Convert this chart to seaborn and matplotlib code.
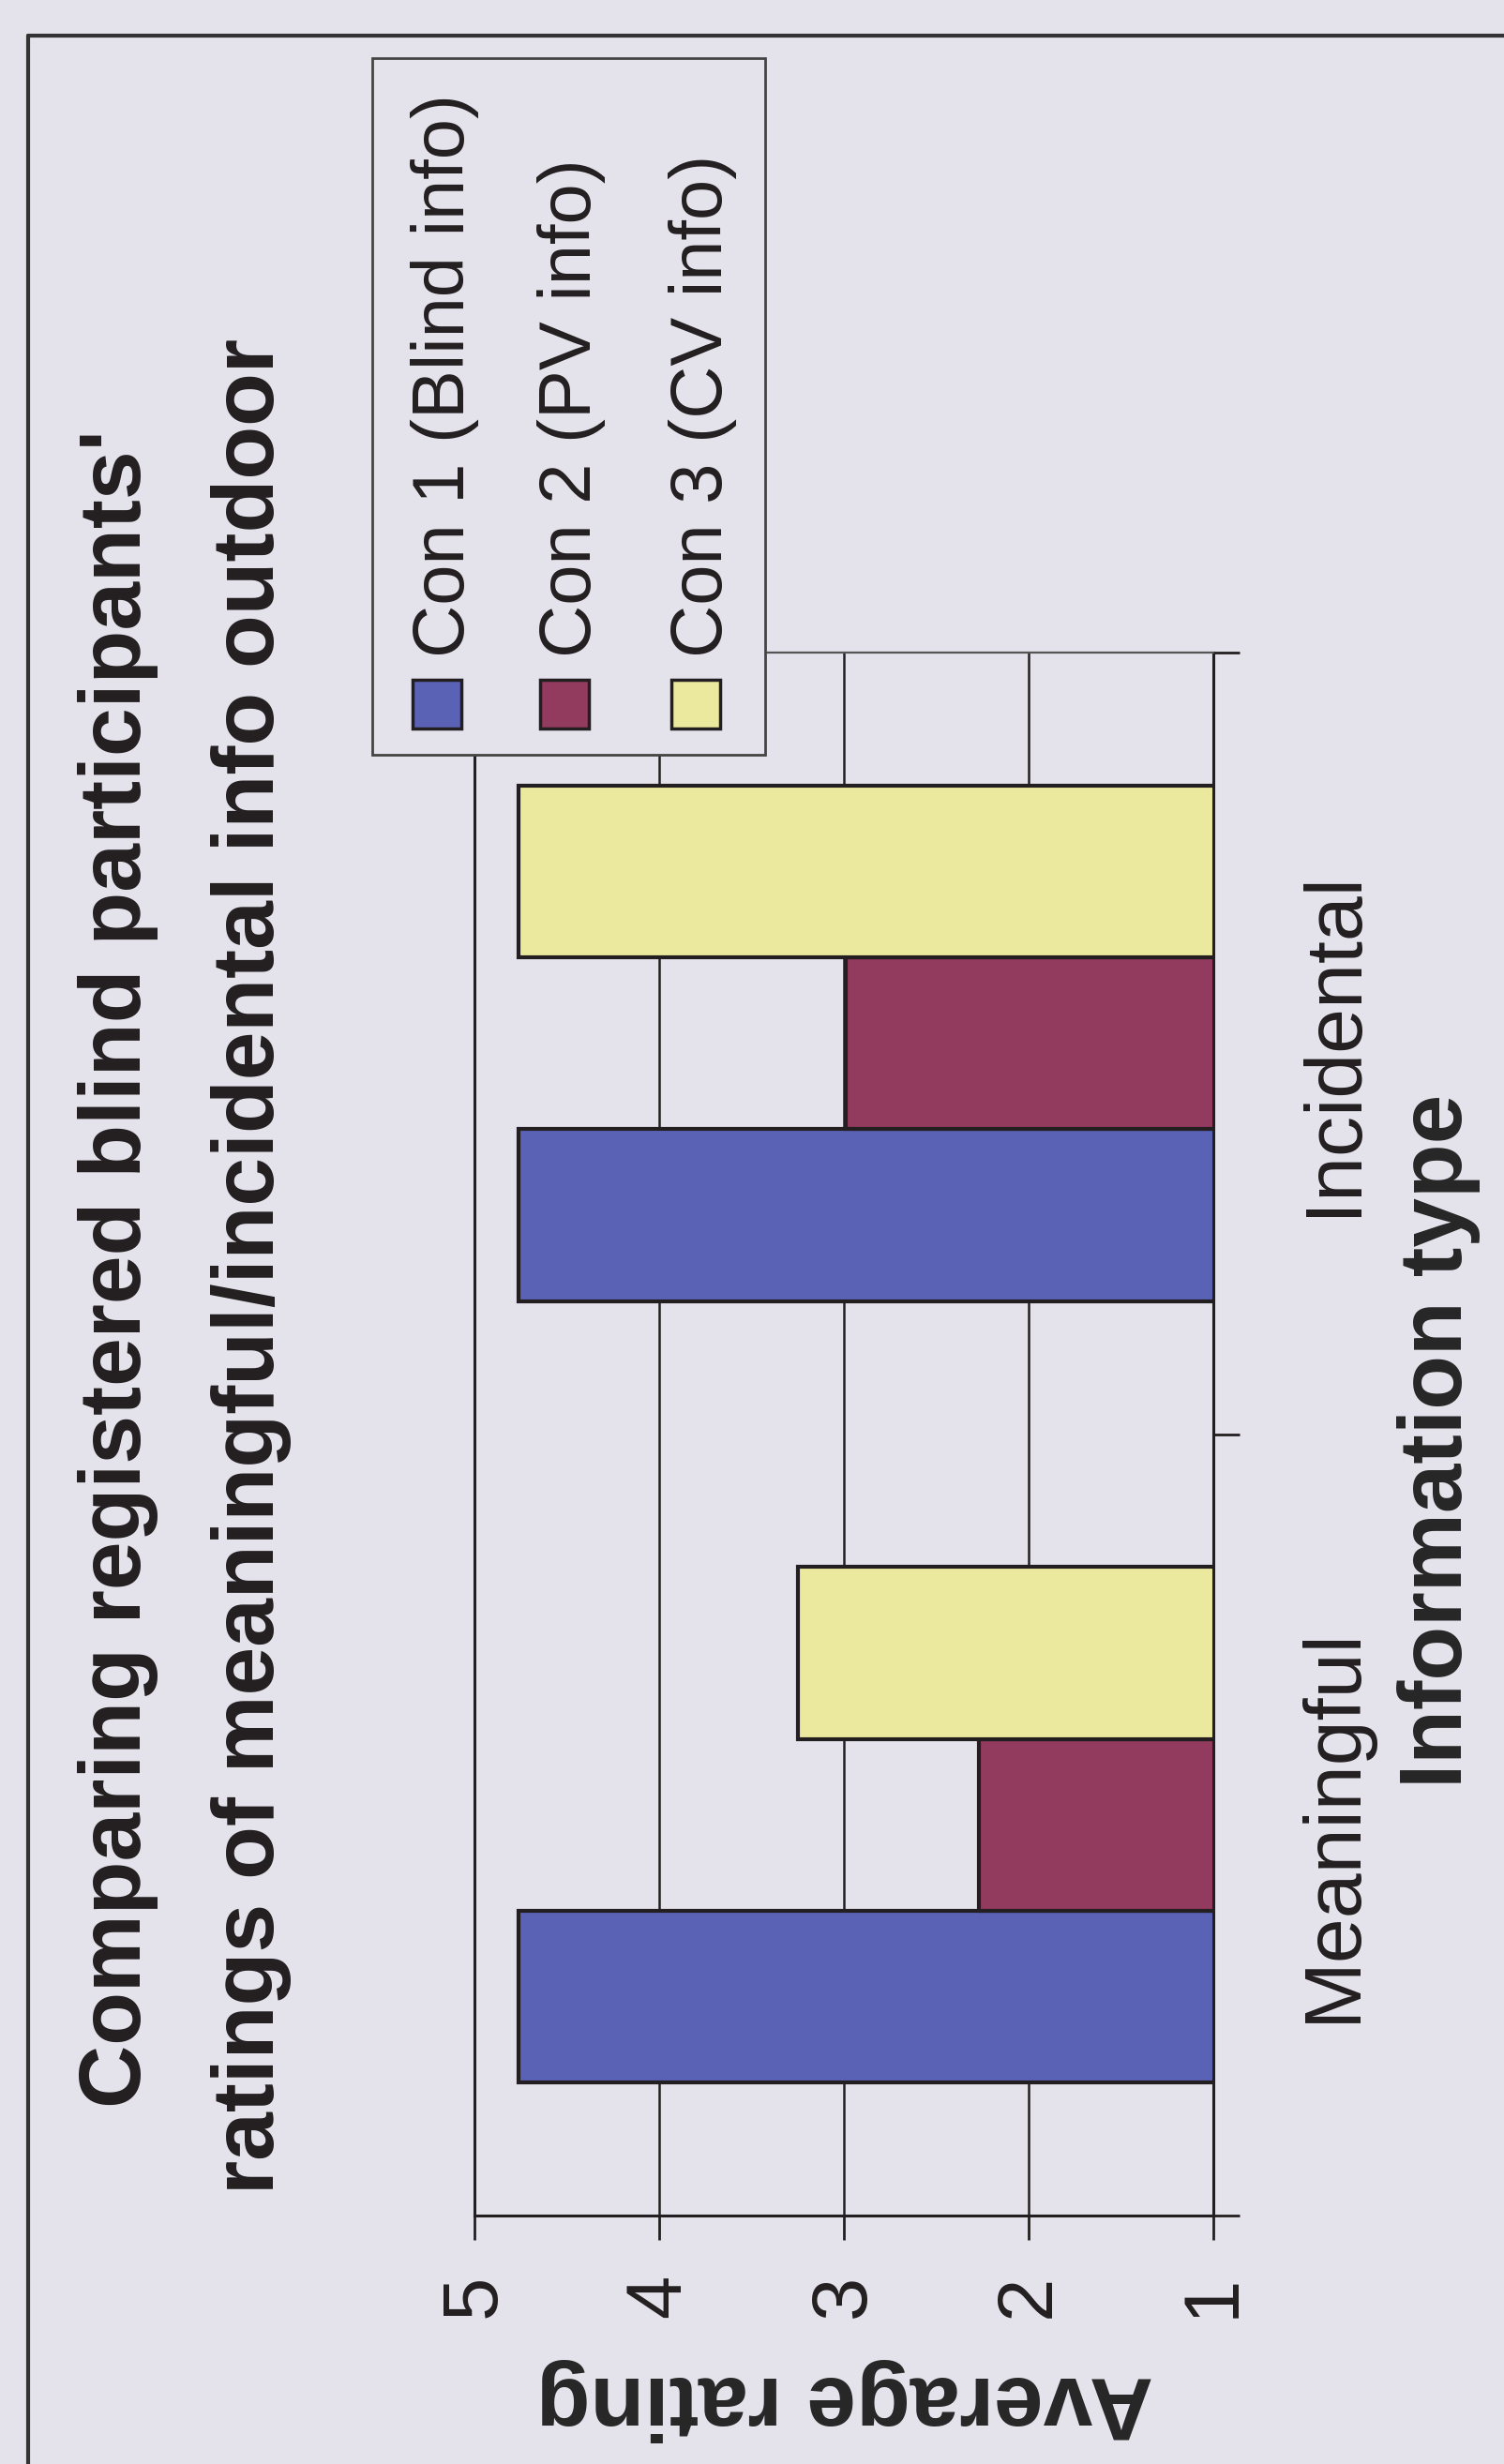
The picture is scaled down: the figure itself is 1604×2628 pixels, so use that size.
import pandas as pd
import seaborn as sns
import matplotlib.pyplot as plt
from matplotlib.patches import Rectangle
from matplotlib.lines import Line2D

# chart data
categories = ["Meaningful", "Incidental"]
conditions = ["Con 1 (Blind info)", "Con 2 (PV info)", "Con 3 (CV info)"]
con1 = [4.76, 4.76]
con2 = [2.27, 2.99]
con3 = [3.25, 4.76]
colors = ["#5a62b6", "#933a5f", "#ebe99d"]
rating_ticks = [1, 2, 3, 4, 5]

bg = "#e4e3ec"
ink = "#231f20"
W, H = 1604, 2628

df = pd.DataFrame({
    "Information type": categories * 3,
    "Condition": [c for c in conditions for _ in categories],
    "Average rating": con1 + con2 + con3,
})

sns.set_style("ticks")
plt.rcParams["font.family"] = ["Liberation Sans", "DejaVu Sans"]
plt.rcParams["text.color"] = ink

fig = plt.figure(figsize=(W / 100, H / 100), dpi=100, facecolor=bg)
# the whole chart is turned on its side, so bars run right-to-left
ax = fig.add_axes([506 / W, 1 - 2363 / H, (1294 - 506) / W, (2363 - 696) / H])
ax.set_facecolor(bg)

sns.barplot(data=df, x="Average rating", y="Information type", hue="Condition",
            order=categories, hue_order=conditions, palette=colors, orient="y",
            width=0.66, saturation=1, errorbar=None, edgecolor=ink,
            linewidth=3, legend=False, ax=ax)

ax.set_xlim(5, 1)
ax.set_ylim(-0.5, 1.5)

# value axis (drawn along the bottom)
ax.set_xticks(rating_ticks)
ax.set_xticklabels([str(t) for t in rating_ticks], rotation=90, fontsize=60)
ax.xaxis.grid(True, color=ink, linewidth=1.8)
ax.yaxis.grid(False)
ax.set_axisbelow(True)
ax.tick_params(axis="x", direction="out", length=19, width=2, pad=26,
               color=ink, labelcolor=ink)

# category axis (drawn on the right)
ax.yaxis.tick_right()
ax.set_yticks([0, 1])
ax.set_yticklabels(categories, rotation=90, va="center", ha="left", fontsize=62)
ax.set_yticks([-0.5, 0.5, 1.5], minor=True)
ax.tick_params(axis="y", which="major", length=0, pad=64, labelcolor=ink)
ax.tick_params(axis="y", which="minor", direction="out", length=20, width=2,
               color=ink)

for name, sp in ax.spines.items():
    sp.set_visible(True)
    sp.set_color(ink)
    sp.set_linewidth(2.2)
ax.spines["top"].set_color("#555555")
ax.spines["top"].set_linewidth(1.6)

ax.set_xlabel("Average rating", rotation=180, fontsize=68, fontweight="bold")
ax.xaxis.label.set_va("center")
ax.xaxis.set_label_coords(0.501, -0.118)
ax.yaxis.set_label_position("right")
ax.set_ylabel("Information type", rotation=90, fontsize=68, fontweight="bold",
              va="center", ha="center")
ax.yaxis.set_label_coords(1.305, 0.4955)

# title, two lines
fig.text(126 / W, 1 - 1353 / H, "Comparing registered blind participants'",
         rotation=90, ha="center", va="center", fontsize=67, fontweight="bold")
fig.text(268 / W, 1 - 1350 / H, "ratings of meaningful/incidental info outdoor",
         rotation=90, ha="center", va="center", fontsize=67, fontweight="bold")

# legend box (rotated, so built by hand)
fig.add_artist(Rectangle((397 / W, 1 - 805 / H), 419 / W, 743 / H,
                         transform=fig.transFigure, facecolor=bg,
                         edgecolor="#444444", lw=2, zorder=5))
legend_x = [466, 602, 742]
sq = 52
for cx, label, color in zip(legend_x, conditions, colors):
    fig.add_artist(Rectangle(((cx - sq / 2) / W, 1 - (751 + sq / 2) / H), sq / W, sq / H,
                             transform=fig.transFigure, facecolor=color,
                             edgecolor=ink, lw=2.5, zorder=6))
    fig.text((cx + 8) / W, 1 - 701 / H, label, rotation=90, ha="center",
             va="bottom", fontsize=56, zorder=6)

# outer frame
fx, fy = 30 / W, 1 - 38 / H
fig.add_artist(Line2D([fx, fx], [0, fy], transform=fig.transFigure, color="#333333", lw=3))
fig.add_artist(Line2D([fx, 1], [fy, fy], transform=fig.transFigure, color="#333333", lw=3))

fig.savefig("out.png", dpi=100, facecolor=bg)
